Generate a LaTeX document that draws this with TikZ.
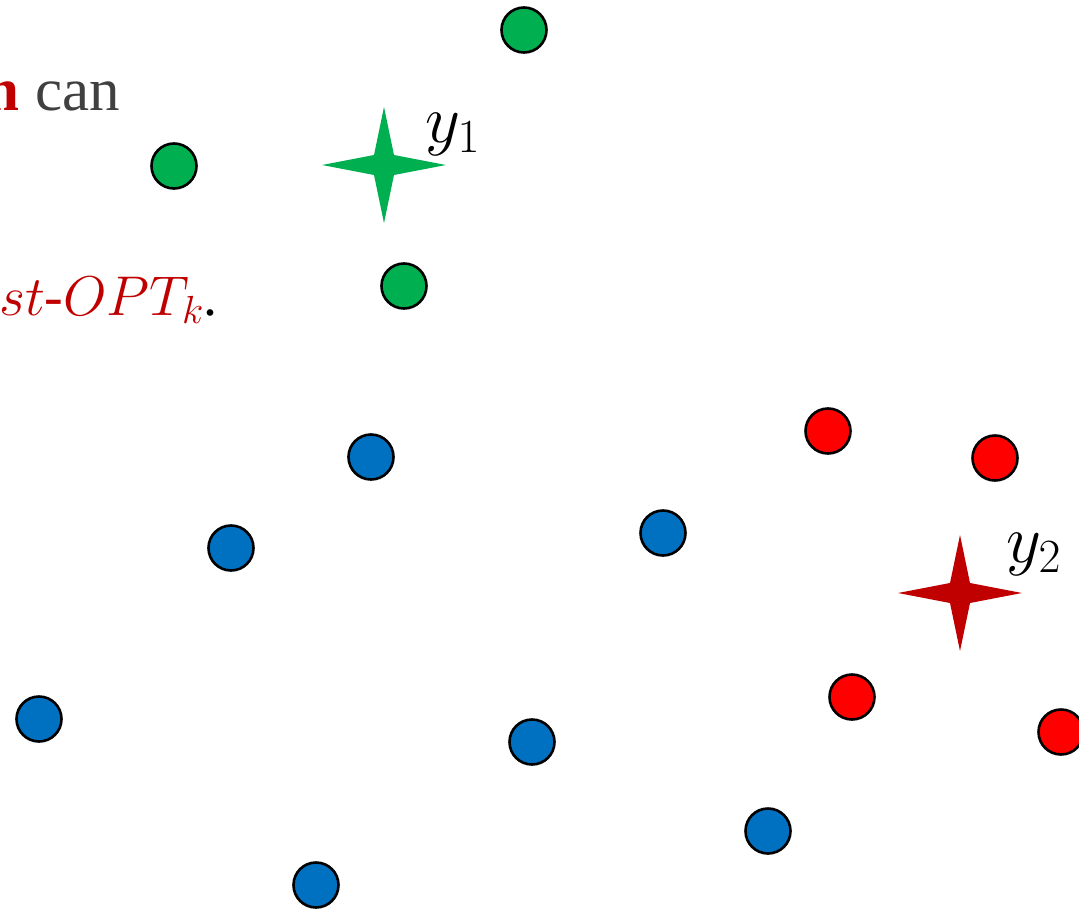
\RequirePackage{fix-cm}
\documentclass[tikz,border=0pt]{standalone}
\usepackage{fontspec}
\setmainfont{Liberation Serif}
\definecolor{cgreen}{HTML}{00B050}
\definecolor{cblue}{HTML}{0070C0}
\definecolor{cred}{HTML}{FF0000}
\definecolor{dred}{HTML}{C00000}
\definecolor{cgray}{HTML}{404040}
\tikzset{
  dot/.style={circle, draw=black, line width=2.6pt, minimum size=45pt, inner sep=0pt},
  gdot/.style={dot, fill=cgreen},
  bdot/.style={dot, fill=cblue},
  rdot/.style={dot, fill=cred},
  star4/.pic={\fill (0,-58) -- (10,-10) -- (62,0) -- (10,10) -- (0,58) -- (-10,10) -- (-62,0) -- (-10,-10) -- cycle;},
  lbl/.style={anchor=base west, inner sep=0pt, font=\fontsize{68}{80}\selectfont}
}
\begin{document}
\begin{tikzpicture}[x=1pt,y=-1pt]
\useasboundingbox (0,0) rectangle (1079,910);
\clip (0,0) rectangle (1079,910);
% text
\node[anchor=base east, inner sep=0pt, font=\fontsize{61}{72}\selectfont] (t1) at (120,110)
  {\textcolor{dred}{\bfseries n} \textcolor{cgray}{can}};
\node[anchor=base west, inner sep=0pt, text=dred, font=\fontsize{56}{66}\selectfont] (t2) at (-1,315)
  {$st\mbox{-}OPT_k$\textcolor{black}{.}};
% green points
\node[gdot] (g1) at (524,30) {};
\node[gdot] (g2) at (174,166) {};
\node[gdot] (g3) at (404,286) {};
% blue points
\node[bdot] (b1) at (371,457) {};
\node[bdot] (b2) at (231,548) {};
\node[bdot] (b3) at (663,533) {};
\node[bdot] (b4) at (39,719) {};
\node[bdot] (b5) at (532,742) {};
\node[bdot] (b6) at (768,831) {};
\node[bdot] (b7) at (316,885) {};
% red points
\node[rdot] (r1) at (828,431) {};
\node[rdot] (r2) at (995,458) {};
\node[rdot] (r3) at (852,697) {};
\node[rdot] (r4) at (1061,732) {};
% stars
\coordinate (s1) at (384,165);
\coordinate (s2) at (960,593);
\pic[fill=cgreen, cgreen] at (s1) {star4};
\pic[dred] at (s2) {star4};
\node[lbl] (y1) at (425,142) {$y_1$};
\node[lbl] (y2) at (1006,562) {$y_2$};
\end{tikzpicture}
\end{document}
